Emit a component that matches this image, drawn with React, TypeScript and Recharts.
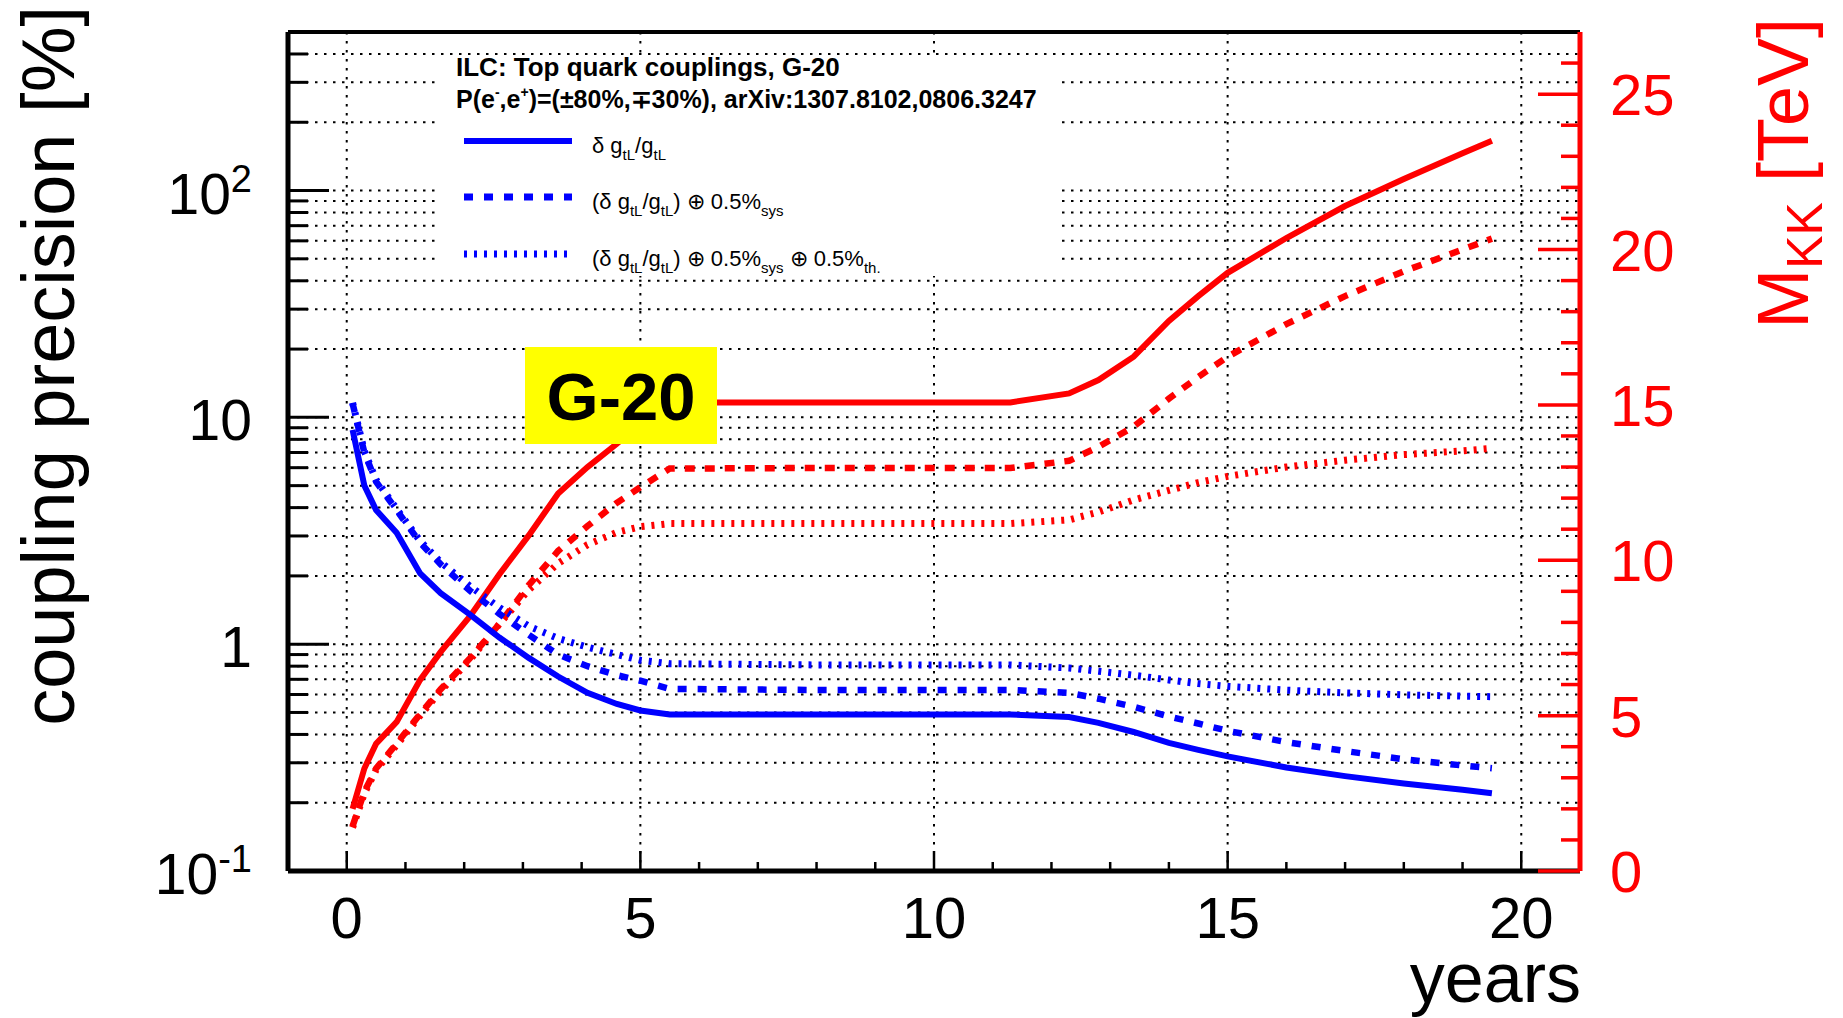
import React from 'react'
import { LineChart, Line, XAxis, YAxis, CartesianGrid, ReferenceLine } from 'recharts'

const FONT = '"Liberation Sans", Arial, Helvetica, sans-serif'
const BLUE = '#0000ff'
const RED = '#ff0000'

// running time in years
const years = [
  0.1, 0.3, 0.5, 0.85, 1.25, 1.6, 2.1, 2.6, 3.1, 3.6, 4.1, 4.6, 5.0, 5.5, 8.0,
  11.3, 12.3, 12.8, 13.4, 14.0, 14.5, 15.0, 16.0, 17.0, 18.0, 19.0, 19.5,
]

// coupling precision [%] (left, log axis)
const dgStat = [
  8.8, 5.0, 3.9, 3.1, 2.05, 1.68, 1.35, 1.07, 0.87, 0.72, 0.61, 0.545, 0.51, 0.49, 0.49,
  0.49, 0.477, 0.45, 0.41, 0.367, 0.342, 0.32, 0.286, 0.262, 0.243, 0.228, 0.22,
]
const dgSys = [
  11.5, 7.0, 5.2, 3.9, 2.8, 2.25, 1.72, 1.36, 1.1, 0.9, 0.8, 0.73, 0.69, 0.635, 0.628,
  0.628, 0.61, 0.575, 0.53, 0.48, 0.447, 0.415, 0.37, 0.338, 0.311, 0.292, 0.284,
]
const dgSysTh = [
  11.6, 7.1, 5.3, 3.95, 2.85, 2.3, 1.8, 1.45, 1.2, 1.06, 0.97, 0.9, 0.85, 0.82, 0.81,
  0.81, 0.785, 0.76, 0.73, 0.695, 0.67, 0.652, 0.627, 0.61, 0.598, 0.59, 0.587,
]

// M_KK reach [TeV] (right axis)
const mkkStat = [
  2.0, 3.3, 4.1, 4.8, 6.15, 7.05, 8.2, 9.55, 10.8, 12.15, 13.0, 13.75, 14.4, 15.08, 15.08,
  15.08, 15.37, 15.8, 16.55, 17.7, 18.5, 19.25, 20.37, 21.4, 22.27, 23.1, 23.5,
]
const mkkSys = [
  1.45, 2.55, 3.3, 4.1, 5.05, 5.85, 6.85, 7.95, 9.2, 10.3, 11.1, 11.85, 12.35, 12.95, 12.97,
  12.97, 13.2, 13.65, 14.3, 15.2, 15.9, 16.55, 17.6, 18.5, 19.3, 20.0, 20.35,
]
const mkkSysTh = [
  1.4, 2.5, 3.25, 4.05, 5.0, 5.8, 6.8, 7.95, 9.05, 9.9, 10.5, 10.9, 11.08, 11.18, 11.18,
  11.18, 11.3, 11.55, 11.94, 12.25, 12.5, 12.7, 13.0, 13.22, 13.4, 13.52, 13.6,
]

const xTicks = [0, 1, 2, 3, 4, 5, 6, 7, 8, 9, 10, 11, 12, 13, 14, 15, 16, 17, 18, 19, 20]
const xGrid = [0, 5, 10, 15, 20]
const leftTicks = [
  0.1, 0.2, 0.3, 0.4, 0.5, 0.6, 0.7, 0.8, 0.9,
  1, 2, 3, 4, 5, 6, 7, 8, 9,
  10, 20, 30, 40, 50, 60, 70, 80, 90,
  100, 200, 300, 400, 500,
]
const leftGrid = leftTicks.filter((v) => v > 0.1 && v < 500)
const leftLabelValues = [0.1, 1, 10, 100]
const leftLabelBase = ['10', '1', '10', '10']
const leftLabelExp = ['-1', '', '', '2']
const rightTicks = [
  0, 1, 2, 3, 4, 5, 6, 7, 8, 9, 10, 11, 12, 13, 14, 15, 16, 17, 18, 19, 20, 21, 22, 23, 24, 25, 26,
]

const table = years.map((year, i) => ({
  year,
  dgStat: dgStat[i],
  dgSys: dgSys[i],
  dgSysTh: dgSysTh[i],
  mkkStat: mkkStat[i],
  mkkSys: mkkSys[i],
  mkkSysTh: mkkSysTh[i],
}))

// frame of the plotting area
const W = 1843
const H = 1018
const PLOT_L = 288
const PLOT_R = 1580
const PLOT_T = 32
const PLOT_B = 871

function XTick(props: any) {
  const { x, payload } = props
  const v = payload.value
  const major = v % 5 === 0
  return (
    <g>
      <line x1={x} x2={x} y1={PLOT_B} y2={PLOT_B - (major ? 20 : 9)} stroke="#000" strokeWidth={2.5} />
      {major && (
        <text x={x} y={938} textAnchor="middle" fontSize={58} fontFamily={FONT} fill="#000">
          {v}
        </text>
      )}
    </g>
  )
}

function LeftTick(props: any) {
  const { y, payload } = props
  const v = payload.value
  const idx = leftLabelValues.indexOf(v)
  const major = idx >= 0
  return (
    <g>
      <line x1={PLOT_L} x2={PLOT_L + (major ? 41 : 20)} y1={y} y2={y} stroke="#000" strokeWidth={3} />
      {major && (
        <text x={252} y={y + 23} textAnchor="end" fontSize={57} fontFamily={FONT} fill="#000">
          {leftLabelBase[idx]}
          {leftLabelExp[idx] && (
            <tspan dy={-22} fontSize={38}>
              {leftLabelExp[idx]}
            </tspan>
          )}
        </text>
      )}
    </g>
  )
}

function RightTick(props: any) {
  const { y, payload } = props
  const v = payload.value
  const major = v % 5 === 0
  return (
    <g>
      <line x1={PLOT_R} x2={PLOT_R - (major ? 42 : 19)} y1={y} y2={y} stroke={RED} strokeWidth={3.5} />
      {major && (
        <text x={1610} y={y + 21} fontSize={58} fontFamily={FONT} fill={RED}>
          {v}
        </text>
      )}
    </g>
  )
}

function Sub(props: { children: React.ReactNode }) {
  return (
    <tspan dy={7} fontSize={15}>
      {props.children}
    </tspan>
  )
}

function Overlay() {
  const txt = { fontFamily: FONT, fill: '#000' }
  return (
    <svg width={W} height={H} style={{ position: 'absolute', left: 0, top: 0, pointerEvents: 'none' }}>
      {/* legend pad */}
      <rect x={437} y={58} width={621} height={218} fill="#fff" />
      <text x={456} y={76} fontSize={26} fontWeight="bold" {...txt}>
        ILC: Top quark couplings, G-20
      </text>
      <text x={456} y={108} fontSize={25} fontWeight="bold" {...txt}>
        P(e<tspan dy={-11} fontSize={14}>-</tspan>
        <tspan dy={11}>,e</tspan>
        <tspan dy={-11} fontSize={14}>+</tspan>
        <tspan dy={11}>)=(±80%,∓30%), arXiv:1307.8102,0806.3247</tspan>
      </text>

      <line x1={464} x2={572} y1={141} y2={141} stroke={BLUE} strokeWidth={6} />
      <line x1={464} x2={572} y1={197} y2={197} stroke={BLUE} strokeWidth={7} strokeDasharray="9 11" />
      <line x1={464} x2={568} y1={254} y2={254} stroke={BLUE} strokeWidth={7} strokeDasharray="3 7" />

      <text x={592} y={153} fontSize={22} {...txt}>
        δ g<Sub>tL</Sub>
        <tspan dy={-7}>/g</tspan>
        <Sub>tL</Sub>
      </text>
      <text x={592} y={209} fontSize={22} {...txt}>
        (δ g<Sub>tL</Sub>
        <tspan dy={-7}>/g</tspan>
        <Sub>tL</Sub>
        <tspan dy={-7}>) ⊕ 0.5%</tspan>
        <Sub>sys</Sub>
      </text>
      <text x={592} y={266} fontSize={22} {...txt}>
        (δ g<Sub>tL</Sub>
        <tspan dy={-7}>/g</tspan>
        <Sub>tL</Sub>
        <tspan dy={-7}>) ⊕ 0.5%</tspan>
        <Sub>sys</Sub>
        <tspan dy={-7}> ⊕ 0.5%</tspan>
        <Sub>th.</Sub>
      </text>

      {/* scenario tag */}
      <rect x={525} y={347} width={192} height={97} fill="#ffff00" />
      <text x={621} y={420} textAnchor="middle" fontSize={67} fontWeight="bold" {...txt}>
        G-20
      </text>

      {/* axis titles */}
      <text transform="translate(74,6) rotate(-90)" textAnchor="end" fontSize={74} {...txt}>
        coupling precision [%]
      </text>
      <text transform="translate(1808,18) rotate(-90)" textAnchor="end" fontSize={72} fontFamily={FONT} fill={RED}>
        M<tspan dy={14} fontSize={50}>KK</tspan>
        <tspan dy={-14}> [TeV]</tspan>
      </text>
      <text x={1581} y={1002} textAnchor="end" fontSize={70} {...txt}>
        years
      </text>
    </svg>
  )
}

export default function App() {
  return (
    <div style={{ position: 'fixed', left: 0, top: 0, width: W, height: H, background: '#fff' }}>
      <LineChart width={W} height={H} data={table} margin={{ top: PLOT_T, right: 0, bottom: 0, left: 0 }}>
        <CartesianGrid
          yAxisId="left"
          horizontalValues={leftGrid}
          verticalValues={xGrid}
          stroke="#000"
          strokeWidth={2}
          strokeDasharray="2.5 6.5"
        />
        <XAxis
          dataKey="year"
          type="number"
          domain={[-1, 21]}
          ticks={xTicks}
          interval={0}
          allowDataOverflow
          height={H - PLOT_B}
          tickLine={false}
          tick={<XTick />}
          axisLine={{ stroke: '#000', strokeWidth: 5 }}
        />
        <YAxis
          yAxisId="left"
          type="number"
          scale="log"
          domain={[0.1, 500]}
          ticks={leftTicks}
          interval={0}
          allowDataOverflow
          width={PLOT_L}
          tickLine={false}
          tick={<LeftTick />}
          axisLine={{ stroke: '#000', strokeWidth: 5 }}
        />
        <YAxis
          yAxisId="right"
          orientation="right"
          type="number"
          domain={[0, 27]}
          ticks={rightTicks}
          interval={0}
          allowDataOverflow
          width={W - PLOT_R}
          tickLine={false}
          tick={<RightTick />}
          axisLine={{ stroke: RED, strokeWidth: 5 }}
        />
        <ReferenceLine yAxisId="left" y={500} stroke="#000" strokeWidth={4} />

        <Line yAxisId="right" dataKey="mkkSysTh" type="linear" stroke={RED} strokeWidth={7} strokeDasharray="3 7" dot={false} isAnimationActive={false} />
        <Line yAxisId="right" dataKey="mkkSys" type="linear" stroke={RED} strokeWidth={6.5} strokeDasharray="10 10" dot={false} isAnimationActive={false} />
        <Line yAxisId="right" dataKey="mkkStat" type="linear" stroke={RED} strokeWidth={6} dot={false} isAnimationActive={false} />
        <Line yAxisId="left" dataKey="dgSysTh" type="linear" stroke={BLUE} strokeWidth={7} strokeDasharray="3 7" dot={false} isAnimationActive={false} />
        <Line yAxisId="left" dataKey="dgSys" type="linear" stroke={BLUE} strokeWidth={6.5} strokeDasharray="9 11" dot={false} isAnimationActive={false} />
        <Line yAxisId="left" dataKey="dgStat" type="linear" stroke={BLUE} strokeWidth={6} dot={false} isAnimationActive={false} />
      </LineChart>
      <Overlay />
    </div>
  )
}
